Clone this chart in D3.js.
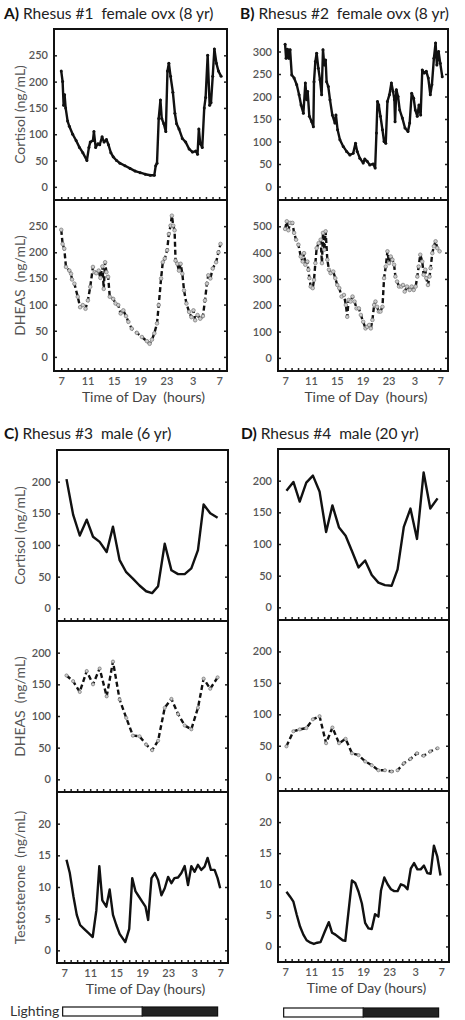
<!DOCTYPE html>
<html><head><meta charset="utf-8">
<script src="https://cdn.jsdelivr.net/npm/d3@7"></script>
<style>
body{margin:0;background:#fff}
svg{display:block}
text{font-family:Lato,"Open Sans","Noto Sans",sans-serif}
</style>
</head><body>
<svg id="c" width="465" height="1020"></svg>
<script>
// ---------- data ----------
const hourTicks = [0, 4, 8, 12, 16, 20, 24];
const hourLabels = ["7", "11", "15", "19", "23", "3", "7"];

const cortisolA = [[0,220],[0.21,200],[0.36,155],[0.51,175],[0.67,150],[0.97,125],[1.23,115],[1.74,100],[2.26,88],[2.77,75],[3.28,65],[3.9,50],[4.21,75],[4.41,85],[4.82,88],[4.97,105],[5.23,75],[5.59,82],[5.85,80],[6.21,95],[6.51,85],[6.87,90],[7.18,80],[7.54,65],[7.9,57],[8.41,50],[8.92,45],[9.69,40],[10.46,35],[11.23,30],[12,27],[12.77,24],[13.54,22],[14.15,22],[14.36,40],[14.56,45],[14.82,130],[15.08,165],[15.28,130],[15.59,120],[15.9,105],[16.15,220],[16.36,235],[16.62,210],[16.97,180],[17.28,140],[17.54,120],[17.9,110],[18.41,92],[18.92,85],[19.44,72],[19.95,66],[20.46,68],[20.72,62],[20.92,110],[21.13,82],[21.44,75],[21.74,150],[21.95,170],[22.26,250],[22.56,155],[22.77,160],[23.03,210],[23.28,262],[23.59,235],[23.9,220],[24.31,210]];
const dheasA = [[0,243],[0.21,216],[0.46,207],[0.72,172],[1.23,165],[1.49,159],[1.64,148],[2.0,140],[2.51,115],[2.87,95],[3.28,99],[3.69,92],[4.05,108],[4.41,134],[4.82,172],[5.08,162],[5.33,160],[5.69,165],[5.95,151],[6.26,173],[6.46,130],[6.67,181],[6.87,162],[7.13,153],[7.38,115],[7.9,111],[8.26,102],[8.67,99],[9.03,83],[9.44,89],[9.85,78],[10.21,67],[10.72,54],[11.49,46],[12.26,38],[13.03,30],[13.44,25],[13.79,33],[14.15,45],[14.56,64],[14.82,99],[15.18,150],[15.44,181],[15.74,188],[16.1,204],[16.36,235],[16.62,251],[16.82,270],[17.03,251],[17.23,242],[17.38,184],[17.64,178],[17.9,165],[18.15,178],[18.41,159],[18.67,127],[19.03,102],[19.44,86],[19.79,76],[20.1,89],[20.36,70],[20.72,80],[21.13,73],[21.54,78],[21.85,108],[22.15,140],[22.36,156],[22.67,150],[23.03,169],[23.54,181],[23.9,200],[24.21,216]];

const cortisolB = [[0,316],[0.15,285],[0.36,305],[0.57,285],[0.77,304],[1.03,248],[1.39,241],[1.8,226],[2.16,204],[2.47,181],[2.83,163],[3.13,230],[3.34,193],[3.49,211],[3.75,156],[4.11,144],[4.37,133],[4.47,233],[4.68,278],[4.88,296],[5.14,263],[5.4,237],[5.65,204],[5.86,304],[6.06,270],[6.27,281],[6.42,233],[6.68,222],[6.94,193],[7.3,159],[7.71,141],[7.86,159],[8.12,126],[8.48,104],[8.99,89],[9.51,78],[10.02,70],[10.53,74],[10.89,96],[11.15,78],[11.56,63],[12.08,52],[12.33,61],[12.69,56],[13.1,48],[13.62,50],[13.93,41],[14.13,119],[14.29,189],[14.49,181],[14.75,156],[15.06,126],[15.31,100],[15.57,96],[15.83,189],[16.14,204],[16.44,230],[16.7,211],[16.91,193],[17.01,144],[17.21,215],[17.47,200],[17.73,170],[18.14,152],[18.55,130],[19.01,122],[19.27,141],[19.58,207],[19.89,196],[20.14,170],[20.45,156],[20.71,181],[20.97,159],[21.22,259],[21.53,252],[21.84,256],[22.15,241],[22.46,204],[22.71,226],[23.02,285],[23.28,319],[23.48,270],[23.74,300],[24.0,274],[24.31,244]];
const dheasB = [[0,490],[0.26,519],[0.51,485],[0.77,513],[1.13,513],[1.39,475],[1.7,449],[2.06,430],[2.42,385],[2.72,366],[2.93,398],[3.13,354],[3.44,366],[3.6,335],[3.75,303],[3.96,271],[4.27,265],[4.47,296],[4.68,360],[4.88,417],[5.19,436],[5.5,449],[5.7,360],[5.86,475],[6.06,411],[6.27,481],[6.53,373],[6.78,335],[7.04,322],[7.45,328],[7.76,303],[8.07,277],[8.38,265],[8.74,233],[9.1,239],[9.4,201],[9.61,156],[9.82,220],[10.12,214],[10.43,233],[10.74,214],[11.05,188],[11.41,188],[11.72,163],[12.08,137],[12.44,112],[12.69,118],[13.0,125],[13.26,112],[13.51,144],[13.77,201],[13.98,214],[14.23,194],[14.49,176],[14.75,176],[15.06,194],[15.31,303],[15.57,347],[15.83,405],[16.08,360],[16.34,385],[16.6,373],[16.86,354],[17.06,309],[17.32,290],[17.63,271],[17.99,271],[18.24,277],[18.5,252],[18.86,271],[19.27,258],[19.58,271],[19.89,258],[20.2,271],[20.45,309],[20.66,347],[20.91,392],[21.22,366],[21.43,316],[21.69,335],[21.84,303],[22.1,277],[22.35,309],[22.51,341],[22.77,398],[23.02,424],[23.28,443],[23.54,417],[23.9,405]];

const hoursC = [0.36,1.38,2.4,3.47,4.44,5.46,6.54,7.51,8.53,9.55,10.57,11.59,12.61,13.53,14.45,15.47,16.5,17.52,18.54,19.56,20.58,21.45,22.47,23.6];
const cortisolC = [204,148,115,140,113,105,89,129,76,57,47,36,27,24,35,102,60,54,54,63,92,164,150,143];
const dheasC = [164,155,138,171,150,175,131,186,126,97,69,68,55,46,61,113,127,103,85,79,113,159,143,161];
const testosteroneC = [[0.36,14.3],[0.87,12.2],[1.43,8.5],[1.94,5.6],[2.45,4.0],[3.06,3.4],[3.68,2.8],[4.39,2.1],[4.95,6.3],[5.41,13.3],[5.87,7.9],[6.49,6.9],[7.0,9.6],[7.51,5.6],[8.02,4.0],[8.53,2.6],[9.4,1.3],[10.01,3.4],[10.47,11.4],[10.98,9.3],[11.49,8.5],[12.0,7.7],[12.51,6.9],[12.92,4.8],[13.43,11.4],[13.94,12.2],[14.45,11.1],[14.96,8.7],[15.47,9.8],[15.99,11.6],[16.5,10.6],[16.96,11.4],[17.52,11.5],[18.03,12.2],[18.54,13.3],[19.05,10.3],[19.56,13.3],[20.07,12.4],[20.58,13.5],[21.09,12.7],[21.6,13.2],[22.06,14.6],[22.57,12.7],[23.14,12.7],[23.6,11.4],[24.0,9.8]];

const hoursD = [0.2,1.27,2.24,3.25,4.27,5.29,6.3,7.27,8.29,9.3,10.27,11.29,12.3,13.32,14.34,15.35,16.37,17.29,18.25,19.27,20.28,21.3,22.32,23.44];
const cortisolD = [184,198,167,197,208,183,119,161,126,113,89,63,74,51,39,35,34,60,127,156,108,213,156,172];
const dheasD = [49,73,76,78,92,97,54,79,54,61,38,35,25,19,11,11,9,11,22,29,38,34,41,46];
const testosteroneD = [[0.2,8.8],[0.76,8.0],[1.27,7.2],[1.78,5.1],[2.29,3.2],[2.8,1.9],[3.3,1.0],[3.91,0.6],[4.42,0.4],[4.93,0.6],[5.44,0.7],[6.1,2.4],[6.71,3.9],[7.22,2.2],[7.73,1.9],[8.34,1.4],[8.85,1.0],[9.25,0.9],[10.27,10.6],[10.78,10.2],[11.29,8.8],[11.8,6.9],[12.3,3.8],[12.81,2.9],[13.32,2.8],[13.83,5.2],[14.34,4.8],[14.74,9.0],[15.25,11.1],[15.76,10.0],[16.27,9.2],[16.78,8.9],[17.29,8.9],[17.8,10.0],[18.3,9.8],[18.81,9.2],[19.32,12.5],[19.83,13.4],[20.34,12.4],[20.84,12.4],[21.35,13.0],[21.86,11.8],[22.37,11.7],[22.88,16.2],[23.39,14.5],[23.89,11.4]];

const lightingOn = [0, 12];
const lightingOff = [12, 23.6];

const titles = [
  {tag:"A)", text:" Rhesus #1\u00a0\u00a0female ovx (8 yr)"},
  {tag:"B)", text:" Rhesus #2\u00a0\u00a0female ovx (8 yr)"},
  {tag:"C)", text:" Rhesus #3\u00a0\u00a0male (6 yr)"},
  {tag:"D)", text:" Rhesus #4\u00a0\u00a0male (20 yr)"}
];

// ---------- drawing ----------
const svg = d3.select("#c");
const zip = (h, v) => h.map((t, i) => [t, v[i]]);

function sub(cfg) {
  const x = d3.scaleLinear().domain([-1.1, 25.2]).range([cfg.left, cfg.right]);
  const y = d3.scaleLinear().domain(cfg.yDomain).range([cfg.bottom, cfg.top]);
  const g = svg.append("g");

  g.append("g").attr("transform", `translate(${cfg.left},0)`)
    .call(d3.axisLeft(y).tickValues(cfg.yTicks).tickSize(-3).tickPadding(6))
    .call(s => { s.select(".domain").remove();
      s.selectAll("line").attr("stroke", "#222").attr("stroke-width", 1.5);
      s.selectAll("text").attr("font-size", 11).attr("fill", "#555").attr("font-weight", 600); });
  g.append("g").attr("transform", `translate(${cfg.right},0)`)
    .call(d3.axisRight(y).tickValues(cfg.yTicks).tickSize(-3).tickFormat(""))
    .call(s => { s.select(".domain").remove(); s.selectAll("line").attr("stroke", "#222").attr("stroke-width", 1.5); });
  g.append("g").attr("transform", `translate(0,${cfg.bottom})`)
    .call(d3.axisBottom(x).tickValues(d3.range(0, 25)).tickSize(-3).tickFormat(""))
    .call(s => { s.select(".domain").remove(); s.selectAll("line").attr("stroke", "#222").attr("stroke-width", 1.5); });

  if (cfg.showX) {
    g.append("g").attr("transform", `translate(0,${cfg.bottom})`)
      .call(d3.axisBottom(x).tickValues(hourTicks).tickSize(0).tickPadding(6).tickFormat((d, i) => hourLabels[i]))
      .call(s => { s.select(".domain").remove();
        s.selectAll("text").attr("font-size", 11).attr("fill", "#555").attr("font-weight", 600); });
    g.append("text").attr("x", (cfg.left + cfg.right) / 2 + 3).attr("y", cfg.bottom + 31)
      .attr("text-anchor", "middle").attr("font-size", 14).attr("fill", "#444")
      .text(cfg.xTitle);
  }
  if (cfg.yTitle) {
    g.append("text").attr("transform", `translate(${cfg.titleX},${(cfg.top + cfg.bottom) / 2}) rotate(-90)`)
      .attr("text-anchor", "middle").attr("dy", "0.35em").attr("font-size", 14).attr("fill", "#555")
      .text(cfg.yTitle);
  }

  const line = d3.line().x(d => x(d[0])).y(d => y(d[1]));
  const path = g.append("path").datum(cfg.data).attr("d", line)
    .attr("fill", "none").attr("stroke", "#111").attr("stroke-width", 2.4)
    .attr("stroke-linejoin", "round");
  if (cfg.dashed) {
    path.attr("stroke-dasharray", "5,3");
    g.selectAll("circle.m").data(cfg.data).join("circle").attr("class", "m")
      .attr("cx", d => x(d[0])).attr("cy", d => y(d[1])).attr("r", cfg.dense ? 1.8 : 1.6)
      .attr("fill", "#ccc").attr("stroke", "#777").attr("stroke-width", 0.7);
  } else if (cfg.dense) {
    g.selectAll("circle.m").data(cfg.data).join("circle").attr("class", "m")
      .attr("cx", d => x(d[0])).attr("cy", d => y(d[1])).attr("r", 1.5).attr("fill", "#111");
  }

  g.append("rect").attr("x", cfg.left).attr("y", cfg.top)
    .attr("width", cfg.right - cfg.left).attr("height", cfg.bottom - cfg.top)
    .attr("fill", "none").attr("stroke", "#111").attr("stroke-width", 2);
  return x;
}

function header(t, xPos, yPos) {
  const tx = svg.append("text").attr("x", xPos).attr("y", yPos).attr("font-size", 15.5).attr("fill", "#222");
  tx.append("tspan").attr("font-weight", 700).attr("fill", "#111").text(t.tag);
  tx.append("tspan").text(t.text);
}

const xTitleAB = "Time of Day\u00a0\u00a0(hours)";
const xTitleCD = "Time of Day (hours)";
const dheasTitle = "DHEAS\u00a0\u00a0(ng/mL)";

// Panel A
header(titles[0], 4, 19);
sub({left:54, right:227, top:29, bottom:200, yDomain:[-25,300], yTicks:d3.range(0,251,50), data:cortisolA, dense:true, yTitle:"Cortisol (ng/mL)", titleX:20});
sub({left:54, right:227, top:200, bottom:371, yDomain:[-27,300], yTicks:d3.range(0,251,50), data:dheasA, dashed:true, dense:true, yTitle:dheasTitle, titleX:20, showX:true, xTitle:xTitleAB});
// Panel B
header(titles[1], 240, 19);
sub({left:278, right:448, top:29, bottom:200, yDomain:[-30,350], yTicks:d3.range(0,301,50), data:cortisolB, dense:true});
sub({left:278, right:448, top:200, bottom:371, yDomain:[-50,600], yTicks:d3.range(0,501,100), data:dheasB, dashed:true, dense:true, showX:true, xTitle:xTitleAB});
// Panel C
header(titles[2], 4, 439);
sub({left:57, right:228, top:450, bottom:621, yDomain:[-20,250], yTicks:d3.range(0,201,50), data:zip(hoursC, cortisolC), yTitle:"Cortisol (ng/mL)", titleX:20});
sub({left:57, right:228, top:621, bottom:792, yDomain:[-20,250], yTicks:d3.range(0,201,50), data:zip(hoursC, dheasC), dashed:true, yTitle:dheasTitle, titleX:20});
const xC = sub({left:57, right:228, top:792, bottom:963, yDomain:[-2,25], yTicks:d3.range(0,21,5), data:testosteroneC, yTitle:"Testosterone\u00a0\u00a0(ng/mL)", titleX:20, showX:true, xTitle:xTitleCD});
// Panel D
header(titles[3], 241, 439);
sub({left:278, right:449, top:449, bottom:620, yDomain:[-20,250], yTicks:d3.range(0,201,50), data:zip(hoursD, cortisolD)});
sub({left:278, right:449, top:620, bottom:791, yDomain:[-22,250], yTicks:d3.range(0,201,50), data:zip(hoursD, dheasD), dashed:true});
const xD = sub({left:278, right:449, top:791, bottom:962, yDomain:[-2.5,25], yTicks:d3.range(0,21,5), data:testosteroneD, showX:true, xTitle:xTitleCD});

// Lighting bars
svg.append("text").attr("x", 10).attr("y", 1016).attr("font-size", 14).attr("fill", "#333").text("Lighting");
[[xC, 1007], [xD, 1008]].forEach(([x, yy]) => {
  svg.append("rect").attr("x", x(lightingOff[0])).attr("y", yy).attr("width", x(lightingOff[1]) - x(lightingOff[0])).attr("height", 9)
    .attr("fill", "#222").attr("stroke", "#111").attr("stroke-width", 1.2);
  svg.append("rect").attr("x", x(lightingOn[0]) - 1.5).attr("y", yy).attr("width", x(lightingOn[1]) - x(lightingOn[0]) + 1.5).attr("height", 9)
    .attr("fill", "#fff").attr("stroke", "#111").attr("stroke-width", 1.2);
});
</script>
</body></html>
